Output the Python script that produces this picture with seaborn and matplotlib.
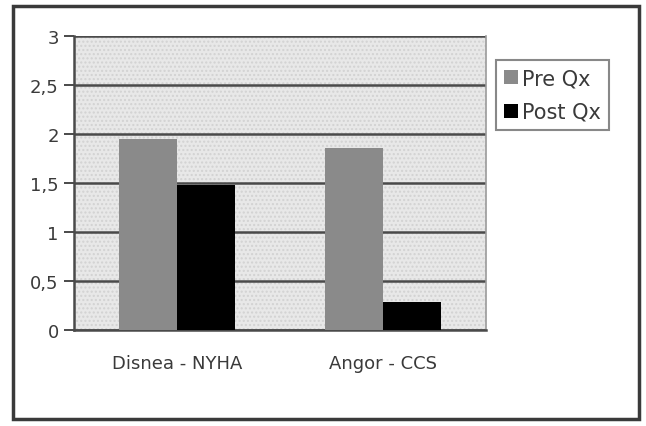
import matplotlib
matplotlib.use("Agg")
import matplotlib.pyplot as plt
import seaborn as sns
import pandas as pd
from matplotlib.patches import Rectangle
from matplotlib.ticker import FuncFormatter

categories = ["Disnea - NYHA", "Angor - CCS"]
pre_qx = [1.95, 1.86]
post_qx = [1.48, 0.29]
series_names = ["Pre Qx", "Post Qx"]
y_ticks = [0, 0.5, 1, 1.5, 2, 2.5, 3]

df = pd.DataFrame({
    "categoria": categories * 2,
    "valor": pre_qx + post_qx,
    "serie": [series_names[0]] * 2 + [series_names[1]] * 2,
})

sns.set_style("white")
plt.rcParams["font.family"] = ["DejaVu Sans"]
plt.rcParams["hatch.linewidth"] = 1.0

W, H = 646, 427
fig = plt.figure(figsize=(W / 100, H / 100), dpi=100)
fig.patch.set_facecolor("white")

# outer chart border
fig.add_artist(Rectangle((13 / W, 1 - 420 / H), 626 / W, 413 / H,
                         transform=fig.transFigure, fill=False,
                         edgecolor="#3a3a3a", linewidth=2.5))

ax = fig.add_axes([74 / W, 1 - 331 / H, 412 / W, 294 / H])
ax.set_facecolor("#e8e8e8")
# stippled plot-area fill
ax.add_patch(Rectangle((0, 0), 1, 1, transform=ax.transAxes, facecolor="none",
                       edgecolor="#d2d2d2", hatch="....", linewidth=0, zorder=0))

sns.barplot(data=df, x="categoria", y="valor", hue="serie", ax=ax,
            palette={series_names[0]: "#8a8a8a", series_names[1]: "#000000"},
            width=0.565, saturation=1, linewidth=0, zorder=3)

ax.set_ylim(0, 3)
ax.set_xlim(-0.5, 1.5)
ax.set_yticks(y_ticks)
ax.yaxis.set_major_formatter(FuncFormatter(
    lambda v, p: (f"{v:g}").replace(".", ",")))
ax.grid(axis="y", color="#4a4a4a", linewidth=1.8, zorder=1)
ax.set_axisbelow(True)

ax.set_xticks([0, 1])
ax.set_xticklabels(categories)
ax.set_xticks([-0.5, 0.5, 1.5], minor=True)
ax.tick_params(axis="x", which="major", length=0, pad=17,
               labelsize=13, labelcolor="#3a3a3a")
ax.tick_params(axis="x", which="minor", length=5, width=1.2,
               color="#4a4a4a", direction="out")
ax.tick_params(axis="y", length=7, width=1.4, color="#4a4a4a",
               labelsize=13, labelcolor="#3a3a3a", pad=4, left=True)
ax.set_xlabel("")
ax.set_ylabel("")

for side in ["left", "bottom"]:
    ax.spines[side].set_color("#4a4a4a")
    ax.spines[side].set_linewidth(1.8)
ax.spines["right"].set_color("#9a9a9a")
ax.spines["right"].set_linewidth(1.2)
ax.spines["top"].set_visible(False)

leg = ax.legend(loc="upper left", bbox_to_anchor=(496 / W, 1 - 61 / H),
                bbox_transform=fig.transFigure, frameon=True, fancybox=False,
                fontsize=15, handlelength=0.65, handleheight=0.65,
                handletextpad=0.2, borderpad=0.4, labelspacing=0.65,
                borderaxespad=0)
leg.get_frame().set_edgecolor("#6a6a6a")
leg.get_frame().set_linewidth(1.5)
for t in leg.get_texts():
    t.set_color("#3a3a3a")

fig.savefig("out.png", dpi=100, facecolor="white")
